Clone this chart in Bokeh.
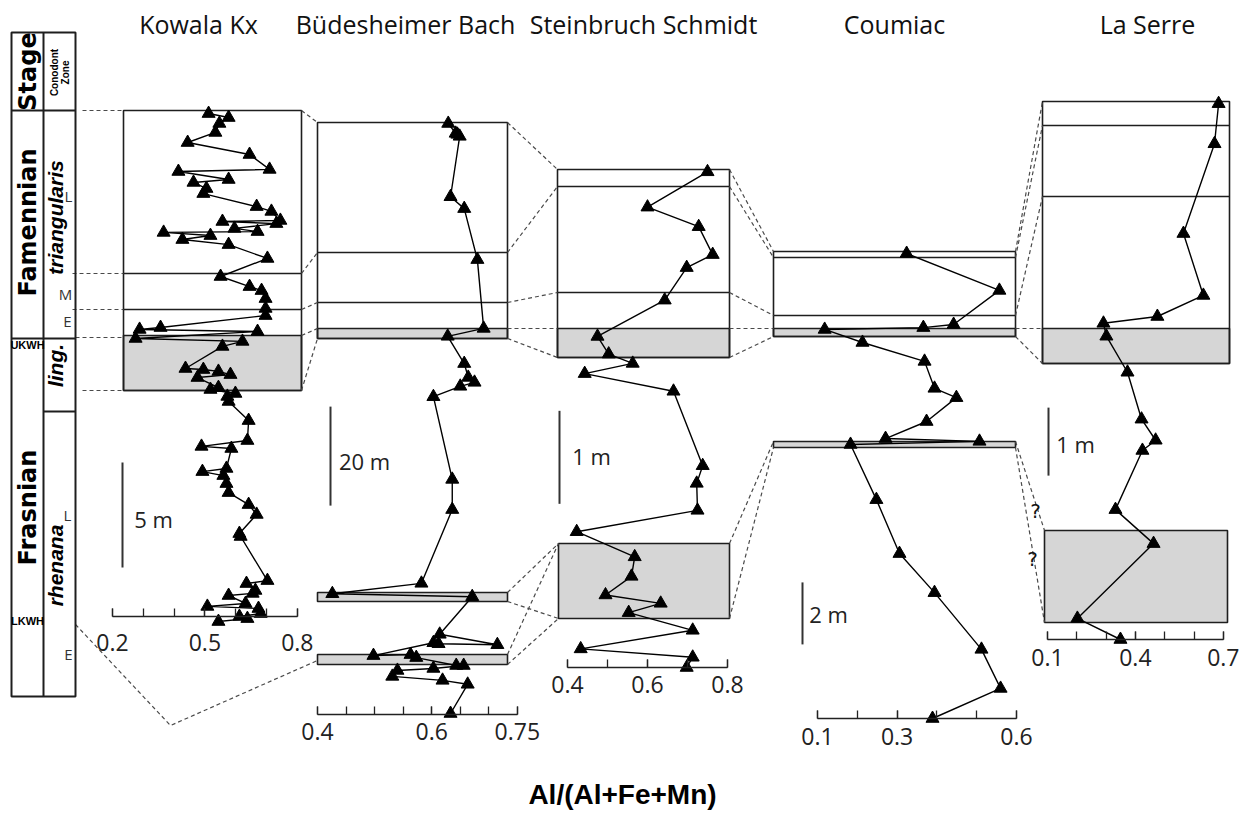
import math
from bokeh.plotting import figure
from bokeh.models import Range1d, LinearAxis, FixedTicker, CustomJSTickFormatter
from bokeh.core.properties import value
from bokeh.embed import file_html
from bokeh.resources import INLINE

W, H = 1246, 813

# ---------------- data: Al/(Al+Fe+Mn) ratio vs. stratigraphic height (m) ----------------
kowala_ratio = [0.512, 0.577, 0.547, 0.534, 0.444, 0.645, 0.710, 0.414, 0.577, 0.463,
                0.505, 0.495, 0.668, 0.716, 0.745, 0.557, 0.732, 0.596, 0.671, 0.366,
                0.518, 0.427, 0.577, 0.703, 0.551, 0.645, 0.684, 0.697, 0.697, 0.697,
                0.356, 0.288, 0.671, 0.275, 0.622, 0.557, 0.437, 0.495, 0.544, 0.583,
                0.476, 0.544, 0.518, 0.599, 0.573, 0.577, 0.642, 0.638, 0.489, 0.586,
                0.570, 0.492, 0.560, 0.570, 0.577, 0.642, 0.668, 0.612, 0.616, 0.703,
                0.635, 0.664, 0.655, 0.577, 0.632, 0.508, 0.674, 0.681, 0.612, 0.638,
                0.544]
kowala_height = [23.95, 23.76, 23.48, 23.05, 22.57, 22.0, 21.29, 21.19, 20.81, 20.67,
                 20.38, 20.14, 19.52, 19.29, 18.86, 18.81, 18.71, 18.48, 18.33, 18.29,
                 18.14, 17.95, 17.71, 17.05, 16.19, 15.71, 15.52, 15.14, 14.67, 14.33,
                 13.76, 13.67, 13.57, 13.24, 13.10, 12.86, 11.81, 11.76, 11.67, 11.52,
                 11.38, 10.90, 10.81, 10.62, 10.48, 10.24, 9.33, 8.38, 8.10, 8.0,
                 7.05, 6.90, 6.71, 6.33, 5.90, 5.33, 4.86, 3.95, 3.81, 1.71,
                 1.57, 1.24, 1.10, 1.0, 0.62, 0.48, 0.38, 0.14, 0.0, -0.10,
                 -0.24]

budes_ratio = [0.629, 0.642, 0.645, 0.649, 0.633, 0.657, 0.680, 0.691, 0.628, 0.657,
               0.664, 0.675, 0.650, 0.603, 0.636, 0.636, 0.582, 0.426, 0.671, 0.614,
               0.715, 0.612, 0.603, 0.498, 0.563, 0.573, 0.643, 0.656, 0.603, 0.540,
               0.531, 0.619, 0.663, 0.633]
budes_height = [119.4, 117.4, 117.2, 116.8, 104.6, 102.2, 91.9, 78.0, 76.4, 70.9,
                68.1, 67.1, 66.3, 64.2, 47.5, 41.4, 26.5, 24.4, 23.8, 16.2,
                14.1, 14.3, 14.5, 11.9, 12.1, 11.5, 9.9, 9.9, 9.3, 8.9,
                7.7, 6.9, 6.1, 0.2]

schmidt_ratio = [0.750, 0.600, 0.728, 0.763, 0.698, 0.643, 0.475, 0.503, 0.563, 0.443,
                 0.665, 0.738, 0.723, 0.725, 0.423, 0.568, 0.560, 0.495, 0.633, 0.553,
                 0.713, 0.433, 0.713, 0.698]
schmidt_height = [5.33, 4.95, 4.74, 4.44, 4.30, 3.95, 3.56, 3.37, 3.27, 3.16,
                  2.97, 2.17, 1.98, 1.69, 1.46, 1.19, 0.98, 0.78, 0.69, 0.59,
                  0.40, 0.20, 0.11, 0.0]

coumiac_ratio = [0.324, 0.557, 0.442, 0.366, 0.118, 0.213, 0.369, 0.394, 0.449, 0.374,
                 0.271, 0.507, 0.183, 0.248, 0.306, 0.394, 0.512, 0.560, 0.389]
coumiac_height = [15.0, 13.81, 12.71, 12.61, 12.55, 12.13, 11.52, 10.65, 10.35, 9.58,
                  9.03, 8.94, 8.84, 7.06, 5.32, 4.06, 2.23, 0.97, 0.0]

serre_ratio = [0.684, 0.670, 0.564, 0.632, 0.475, 0.291, 0.301, 0.373, 0.421, 0.469,
               0.424, 0.332, 0.462, 0.202, 0.349]
serre_height = [7.88, 7.29, 5.97, 5.06, 4.75, 4.65, 4.46, 3.93, 3.24, 2.93,
                2.78, 1.91, 1.41, 0.31, 0.0]

section_names = ["Kowala Kx", "Büdesheimer Bach", "Steinbruch Schmidt", "Coumiac", "La Serre"]

kowala_ticks = [0.2, 0.5, 0.8]
budes_ticks = [0.4, 0.6, 0.75]
schmidt_ticks = [0.4, 0.6, 0.8]
coumiac_ticks = [0.1, 0.3, 0.6]
serre_ticks = [0.1, 0.4, 0.7]

kowala_minor = [0.2, 0.3, 0.4, 0.5, 0.6, 0.7, 0.8]
budes_minor = [0.4, 0.45, 0.5, 0.55, 0.6, 0.65, 0.7, 0.75]
schmidt_minor = [0.4, 0.5, 0.6, 0.7, 0.8]
coumiac_minor = [0.1, 0.2, 0.3, 0.4, 0.5, 0.6]
serre_minor = [0.1, 0.2, 0.3, 0.4, 0.5, 0.6, 0.7]

scale_bar_m = [5, 20, 1, 2, 1]
scale_bar_labels = ["5 m", "20 m", "1 m", "2 m", "1 m"]

# ---------------- layout (screen pixels) ----------------
panels = [
    dict(key="kx", ratio=kowala_ratio, h=kowala_height, ticks=kowala_ticks, minor=kowala_minor,
         x0=112, v0=0.2, ppu=308.0, base=616, ppm=21.0, title_x=198,
         bar_x=122, bar_h0=2.33, lab=(153, 518), standoff=17),
    dict(key="bb", ratio=budes_ratio, h=budes_height, ticks=budes_ticks, minor=budes_minor,
         x0=317, v0=0.4, ppu=571.0, base=714, ppm=4.95, title_x=405,
         bar_x=330, bar_h0=42.2, lab=(364, 460), standoff=8),
    dict(key="ss", ratio=schmidt_ratio, h=schmidt_height, ticks=schmidt_ticks, minor=schmidt_minor,
         x0=567, v0=0.4, ppu=400.0, base=667, ppm=93.0, title_x=643,
         bar_x=559, bar_h0=1.76, lab=(591, 455), standoff=8),
    dict(key="co", ratio=coumiac_ratio, h=coumiac_height, ticks=coumiac_ticks, minor=coumiac_minor,
         x0=817, v0=0.1, ppu=398.0, base=718, ppm=31.0, title_x=894,
         bar_x=802, bar_h0=2.39, lab=(828, 613), standoff=9),
    dict(key="ls", ratio=serre_ratio, h=serre_height, ticks=serre_ticks, minor=serre_minor,
         x0=1047, v0=0.1, ppu=293.0, base=639, ppm=68.0, title_x=1147,
         bar_x=1048, bar_h0=2.41, lab=(1075, 443), standoff=9),
]

p = figure(width=W, height=H, x_range=Range1d(0, W), y_range=Range1d(H, 0),
           output_backend="svg", toolbar_location=None,
           x_axis_location=None, y_axis_location=None, min_border=0)
p.outline_line_color = None
p.grid.visible = False
p.background_fill_color = "white"
p.border_fill_color = "white"

for pn in panels:
    k = pn["key"]
    p.extra_x_ranges[k] = Range1d(pn["v0"] - pn["x0"] / pn["ppu"], pn["v0"] + (W - pn["x0"]) / pn["ppu"])
    p.extra_y_ranges[k] = Range1d((pn["base"] - H) / pn["ppm"], pn["base"] / pn["ppm"])

SHADE = "#d6d6d6"
BOX = "#1e1e1e"
DASH = "#4a4a4a"

# zone boxes
boxes = [(123, 301, 110, 390), (317, 507, 122, 338), (557, 729, 169, 357),
         (773, 1015, 251, 336), (1042, 1229, 101, 363)]
shades = [(123, 301, 335, 390), (317, 507, 328, 338), (557, 729, 328, 357),
          (773, 1015, 328, 336), (1042, 1229, 328, 363),
          (317, 507, 592, 601), (317, 507, 654, 664), (558, 729, 543, 618),
          (773, 1015, 441, 447), (1044, 1227, 530, 622)]
p.quad(left=[s[0] for s in shades], right=[s[1] for s in shades],
       top=[s[2] for s in shades], bottom=[s[3] for s in shades],
       fill_color=SHADE, line_color=BOX, line_width=1.6)
p.quad(left=[b[0] for b in boxes], right=[b[1] for b in boxes],
       top=[b[2] for b in boxes], bottom=[b[3] for b in boxes],
       fill_color=None, line_color=BOX, line_width=1.6)
inner = [(123, 301, 273), (123, 301, 309), (317, 507, 252), (317, 507, 302),
         (557, 729, 186), (557, 729, 292), (773, 1015, 257), (773, 1015, 315),
         (1042, 1229, 125), (1042, 1229, 196)]
p.segment(x0=[s[0] for s in inner], x1=[s[1] for s in inner],
          y0=[s[2] for s in inner], y1=[s[2] for s in inner],
          line_color=BOX, line_width=1.5)

# correlation dashed lines
dashed = [
    [(82, 110), (123, 110)], [(72, 273), (123, 273)], [(72, 309), (123, 309)],
    [(75, 337), (123, 337)], [(82, 390), (123, 390)],
    [(301, 110), (317, 122)], [(301, 273), (317, 252)], [(301, 309), (317, 302)],
    [(301, 335), (317, 328)], [(301, 390), (317, 338)],
    [(75, 624), (170, 725), (317, 660)],
    [(507, 122), (557, 169)], [(507, 252), (557, 186)], [(507, 302), (557, 292)],
    [(507, 328), (557, 328)], [(507, 338), (557, 357)],
    [(507, 592), (558, 543)], [(507, 601), (558, 618)], [(507, 654), (558, 543)],
    [(507, 664), (558, 618)],
    [(729, 169), (773, 251)], [(729, 186), (773, 257)], [(729, 292), (773, 315)],
    [(729, 328), (773, 328)], [(729, 357), (773, 336)],
    [(729, 543), (773, 441)], [(729, 618), (773, 447)],
    [(1015, 251), (1042, 101)], [(1015, 257), (1042, 125)], [(1015, 315), (1042, 196)],
    [(1015, 328), (1042, 328)], [(1015, 336), (1042, 363)],
    [(1015, 441), (1044, 530)], [(1015, 447), (1044, 622)],
]
p.multi_line(xs=[[pt[0] for pt in d] for d in dashed], ys=[[pt[1] for pt in d] for d in dashed],
             line_color=DASH, line_width=1.2, line_dash="4 3")
p.text(x=[1035, 1032], y=[510, 558], text=["?", "?"], text_font=value("DejaVu Sans"),
       text_font_size="20px", text_align="center", text_baseline="middle", text_color="#111111")

# stratigraphic column
p.quad(left=[11], right=[75], top=[32], bottom=[696], fill_color=None, line_color=BOX, line_width=2)
col_segs = [(43, 32, 43, 696), (11, 110, 75, 110), (11, 338, 75, 338), (43, 411, 75, 411)]
p.segment(x0=[s[0] for s in col_segs], y0=[s[1] for s in col_segs],
          x1=[s[2] for s in col_segs], y1=[s[3] for s in col_segs],
          line_color=BOX, line_width=2)

rot = math.pi / 2
p.text(x=[27, 27, 27], y=[71, 222, 507], text=["Stage", "Famennian", "Frasnian"], angle=rot,
       text_font=value("DejaVu Sans"), text_font_style="bold", text_font_size="24px",
       text_align="center", text_baseline="middle", text_color="black")
p.text(x=[54, 64.5], y=[72, 72], text=["Conodont", "Zone"], angle=rot,
       text_font=value("Liberation Sans"), text_font_style="bold", text_font_size="10px",
       text_align="center", text_baseline="middle", text_color="black")
p.text(x=[55, 55, 55], y=[217, 365, 565], text=["triangularis", "ling.", "rhenana"], angle=rot,
       text_font=value("Liberation Sans"), text_font_style="bold italic", text_font_size="21px",
       text_align="center", text_baseline="middle", text_color="black")
p.text(x=[68, 65, 67, 67, 68], y=[195, 293, 320, 514, 653], text=["L", "M", "E", "L", "E"],
       text_font=value("Open Sans"), text_font_size="15px",
       text_align="center", text_baseline="middle", text_color="#333333")
p.text(x=[27, 27], y=[344, 620], text=["UKWH", "LKWH"],
       text_font=value("Liberation Sans"), text_font_style="bold", text_font_size="11px",
       text_align="center", text_baseline="middle", text_color="black")

# titles
p.text(x=[pn["title_x"] for pn in panels], y=[23] * 5, text=section_names,
       text_font=value("Open Sans"), text_font_size="25px",
       text_align="center", text_baseline="middle", text_color="#111111")
p.text(x=[622], y=[794], text=["Al/(Al+Fe+Mn)"], text_font=value("Liberation Sans"),
       text_font_style="bold", text_font_size="28px",
       text_align="center", text_baseline="middle", text_color="black")

fmt = CustomJSTickFormatter(code="return String(Math.round(tick * 100) / 100);")

for pn, m, lab in zip(panels, scale_bar_m, scale_bar_labels):
    k = pn["key"]
    # scale bar drawn in the section's own metre scale
    p.segment(x0=[pn["bar_x"]], x1=[pn["bar_x"]], y0=[pn["bar_h0"]], y1=[pn["bar_h0"] + m],
              y_range_name=k, line_color="#333333", line_width=2)
    p.text(x=[pn["lab"][0]], y=[pn["lab"][1]], text=[lab], text_font=value("Open Sans"),
           text_font_size="22px", text_align="center", text_baseline="middle", text_color="#222222")
    # data
    p.line(x=pn["ratio"], y=pn["h"], x_range_name=k, y_range_name=k,
           line_color="black", line_width=1.4)
    p.scatter(x=pn["ratio"], y=pn["h"], x_range_name=k, y_range_name=k, marker="triangle",
              size=13, fill_color="black", line_color="black")
    # axis
    ax = LinearAxis(x_range_name=k, y_range_name=k, fixed_location=0,
                    bounds=(pn["minor"][0], pn["minor"][-1]),
                    ticker=FixedTicker(ticks=pn["ticks"], minor_ticks=pn["minor"]),
                    formatter=fmt)
    ax.axis_line_color = "#222222"
    ax.axis_line_width = 1.6
    ax.major_tick_in = 8
    ax.major_tick_out = 0
    ax.minor_tick_in = 8
    ax.minor_tick_out = 0
    ax.major_tick_line_color = "#222222"
    ax.minor_tick_line_color = "#222222"
    ax.major_tick_line_width = 1.3
    ax.minor_tick_line_width = 1.3
    ax.major_label_text_font = "Open Sans"
    ax.major_label_text_font_size = "23px"
    ax.major_label_text_color = "#222222"
    ax.major_label_standoff = pn["standoff"]
    p.add_layout(ax, "below")

open("out.html", "w").write(file_html(p, INLINE))
